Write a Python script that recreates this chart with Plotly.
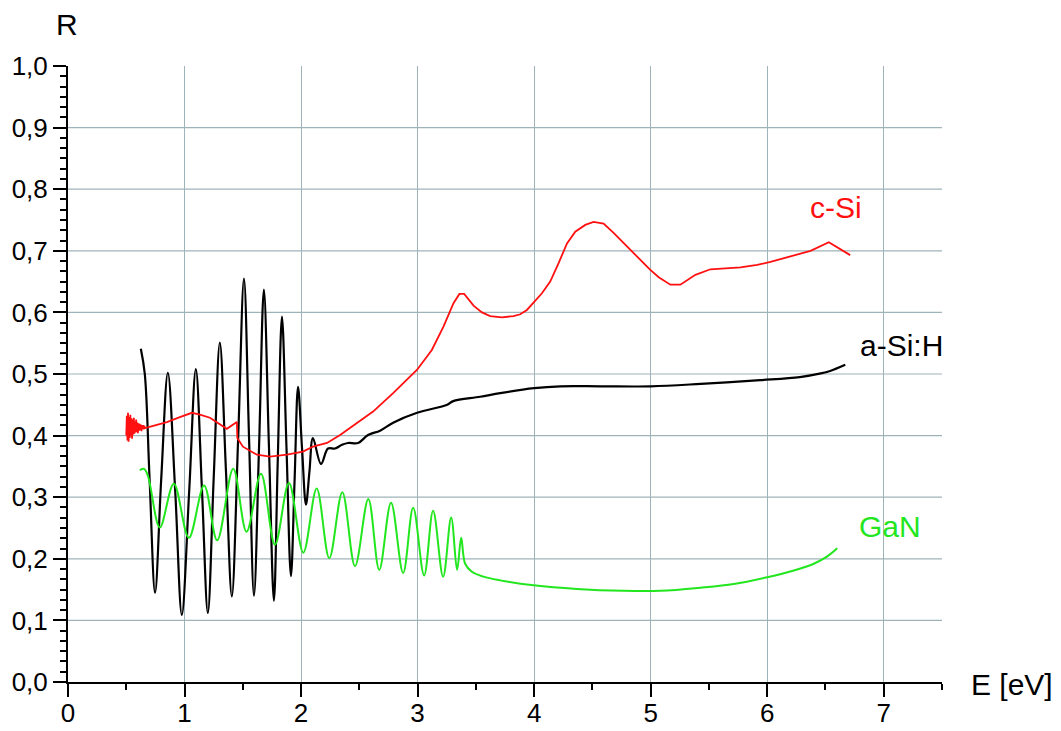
import plotly.graph_objects as go

# ---------------- data ----------------
# a-Si:H (black)
asi_E = [0.625, 0.659, 0.70, 0.747, 0.80, 0.857, 0.92, 0.977, 1.04, 1.097, 1.15, 1.200, 1.25,
         1.303, 1.355, 1.406, 1.46, 1.510, 1.553, 1.596, 1.64, 1.681, 1.724, 1.767, 1.80, 1.836,
         1.875, 1.913, 1.944, 1.974, 2.008, 2.042, 2.072, 2.102, 2.171, 2.231, 2.291, 2.351,
         2.403, 2.489, 2.575, 2.678, 2.790, 2.996, 3.254, 3.305, 3.537, 3.709, 4.0, 4.225, 4.57,
         5.0, 5.43, 5.94, 6.28, 6.46, 6.54, 6.67]
asi_R = [0.541, 0.500, 0.330, 0.145, 0.330, 0.502, 0.310, 0.109, 0.310, 0.508, 0.310, 0.112, 0.330,
         0.551, 0.345, 0.139, 0.395, 0.655, 0.400, 0.140, 0.385, 0.637, 0.385, 0.132, 0.360, 0.593,
         0.380, 0.172, 0.325, 0.479, 0.380, 0.288, 0.342, 0.396, 0.354, 0.379, 0.379, 0.385,
         0.388, 0.388, 0.401, 0.408, 0.421, 0.437, 0.450, 0.456, 0.463, 0.469, 0.477, 0.480, 0.480,
         0.480, 0.484, 0.490, 0.495, 0.501, 0.505, 0.515]

# c-Si (red) - noisy low-energy part followed by smooth part
csi_E = [0.500, 0.505, 0.510, 0.515, 0.520, 0.525, 0.530, 0.535, 0.540, 0.545, 0.550, 0.555,
         0.560, 0.565, 0.570, 0.575, 0.580, 0.585, 0.590, 0.595, 0.600, 0.605, 0.610, 0.615,
         0.620, 0.625, 0.630, 0.635, 0.640, 0.645, 0.650, 0.655, 0.660,
         0.703, 0.849, 0.960, 1.063, 1.132, 1.218, 1.363, 1.449, 1.453, 1.501, 1.621, 1.733,
         1.879, 2.016, 2.102, 2.223, 2.335, 2.506, 2.618, 2.790, 2.996, 3.122, 3.222, 3.308,
         3.359, 3.400, 3.480, 3.552, 3.623, 3.723, 3.823, 3.881, 3.938, 4.067, 4.138, 4.210,
         4.282, 4.353, 4.439, 4.510, 4.596, 4.682, 4.797, 4.911, 4.997, 5.069, 5.169, 5.255,
         5.384, 5.513, 5.771, 5.914, 6.028, 6.200, 6.372, 6.529, 6.712]
csi_R = [0.400, 0.432, 0.392, 0.437, 0.390, 0.430, 0.396, 0.434, 0.399, 0.428, 0.395, 0.426,
         0.402, 0.429, 0.403, 0.423, 0.405, 0.426, 0.406, 0.421, 0.404, 0.420, 0.408, 0.419,
         0.409, 0.418, 0.407, 0.417, 0.410, 0.417, 0.410, 0.416, 0.412,
         0.414, 0.422, 0.430, 0.437, 0.434, 0.429, 0.411, 0.422, 0.396, 0.382, 0.369, 0.366,
         0.369, 0.374, 0.382, 0.388, 0.401, 0.424, 0.439, 0.469, 0.507, 0.539, 0.577, 0.615,
         0.630, 0.630, 0.611, 0.600, 0.594, 0.592, 0.594, 0.597, 0.604, 0.631, 0.650, 0.680,
         0.712, 0.731, 0.742, 0.747, 0.744, 0.729, 0.707, 0.685, 0.669, 0.657, 0.645, 0.645,
         0.661, 0.670, 0.673, 0.677, 0.682, 0.691, 0.700, 0.714, 0.693]

# GaN (green)
gan_E = [0.616, 0.653, 0.687, 0.788, 0.908, 1.037, 1.168, 1.280, 1.418, 1.532, 1.656, 1.776,
         1.896, 2.019, 2.134, 2.242, 2.354, 2.463, 2.577, 2.671, 2.772, 2.876, 2.962, 3.056,
         3.133, 3.219, 3.288, 3.339, 3.374, 3.408, 3.466, 3.565, 3.709, 3.995, 4.367, 4.768,
         5.083, 5.427, 5.713, 6.0, 6.229, 6.4, 6.516, 6.601]
gan_R = [0.344, 0.346, 0.334, 0.251, 0.322, 0.234, 0.319, 0.230, 0.346, 0.244, 0.338, 0.223,
         0.323, 0.210, 0.314, 0.201, 0.308, 0.188, 0.297, 0.182, 0.291, 0.177, 0.283, 0.173,
         0.278, 0.171, 0.267, 0.182, 0.234, 0.192, 0.179, 0.171, 0.165, 0.157, 0.151, 0.148,
         0.148, 0.153, 0.159, 0.170, 0.181, 0.192, 0.204, 0.217]

x_ticks = [0, 1, 2, 3, 4, 5, 6, 7]
y_ticks = [0.0, 0.1, 0.2, 0.3, 0.4, 0.5, 0.6, 0.7, 0.8, 0.9, 1.0]
y_ticktext = ["0,0", "0,1", "0,2", "0,3", "0,4", "0,5", "0,6", "0,7", "0,8", "0,9", "1,0"]

FONT = "Liberation Sans, Arial, sans-serif"
GRID = "#9fb3ba"
TICK_SIZE = 26
LABEL_SIZE = 30

fig = go.Figure()
fig.add_trace(go.Scatter(x=asi_E, y=asi_R, mode="lines", line=dict(color="black", width=2.2, shape="spline", smoothing=1.0), showlegend=False))
fig.add_trace(go.Scatter(x=csi_E, y=csi_R, mode="lines", line=dict(color="#ff1010", width=1.8), showlegend=False))
fig.add_trace(go.Scatter(x=gan_E, y=gan_R, mode="lines", line=dict(color="#22e61e", width=2, shape="spline", smoothing=1.0), showlegend=False))

# horizontal grid lines (no line at 1.0)
for yv in y_ticks[1:-1]:
    fig.add_shape(type="line", xref="x", yref="y", x0=0, x1=7.5, y0=yv, y1=yv,
                  line=dict(color=GRID, width=1.2), layer="below")

W, H = 1061, 731
L, T = 68, 66
PW, PH = 874, 616
fig.update_layout(
    width=W, height=H,
    margin=dict(l=L, r=W - L - PW, t=T, b=H - T - PH, autoexpand=False),
    plot_bgcolor="white", paper_bgcolor="white",
    font=dict(family=FONT, size=TICK_SIZE, color="black"),
    xaxis=dict(range=[0, 7.5], tickvals=x_ticks, showgrid=True, gridcolor=GRID, gridwidth=1.2,
               zeroline=False, showline=True, linecolor="black", linewidth=2,
               ticks="outside", ticklen=13, tickwidth=2, tickcolor="black",
               tickfont=dict(size=TICK_SIZE, family=FONT), automargin=False,
               ticklabelstandoff=-6,
               minor=dict(dtick=0.5, ticks="outside", ticklen=6, tickwidth=2, tickcolor="black", showgrid=False)),
    yaxis=dict(range=[0, 1.0], tickvals=y_ticks, ticktext=y_ticktext, showgrid=False,
               zeroline=False, showline=True, linecolor="black", linewidth=2,
               ticks="outside", ticklen=13, tickwidth=2, tickcolor="black",
               tickfont=dict(size=TICK_SIZE, family=FONT), automargin=False,
               minor=dict(tick0=0, dtick=0.1 / 6, ticks="outside", ticklen=6, tickwidth=2, tickcolor="black", showgrid=False)),
)

txt = dict(showarrow=False, xanchor="center", yanchor="middle")
# axis titles placed in paper coordinates (plot area spans 0..1)
fig.add_annotation(x=(67 - L) / PW, y=(H - 24.5 - (H - T - PH)) / PH, xref="paper", yref="paper", text="R",
                   font=dict(family=FONT, size=LABEL_SIZE), **txt)
fig.add_annotation(x=(1012 - L) / PW, y=(682 - 684) / PH, xref="paper", yref="paper", text="E [eV]",
                   font=dict(family=FONT, size=LABEL_SIZE), **txt)
# curve labels
fig.add_annotation(x=6.587, y=0.771, text="c-Si", font=dict(family=FONT, size=LABEL_SIZE, color="#ff1010"), xref="x", yref="y", **txt)
fig.add_annotation(x=(901 - L) / PW, y=0.547, text="a-Si:H", font=dict(family=FONT, size=LABEL_SIZE, color="black"), xref="paper", yref="y", **txt)
fig.add_annotation(x=7.05, y=0.252, text="GaN", font=dict(family=FONT, size=LABEL_SIZE, color="#22e61e"), xref="x", yref="y", **txt)

# remove the default page margin so the figure sits at the window's top-left corner
fig.write_html("out.html", config={"displayModeBar": False},
               post_script="document.body.style.margin='0';document.body.style.overflow='hidden';")
